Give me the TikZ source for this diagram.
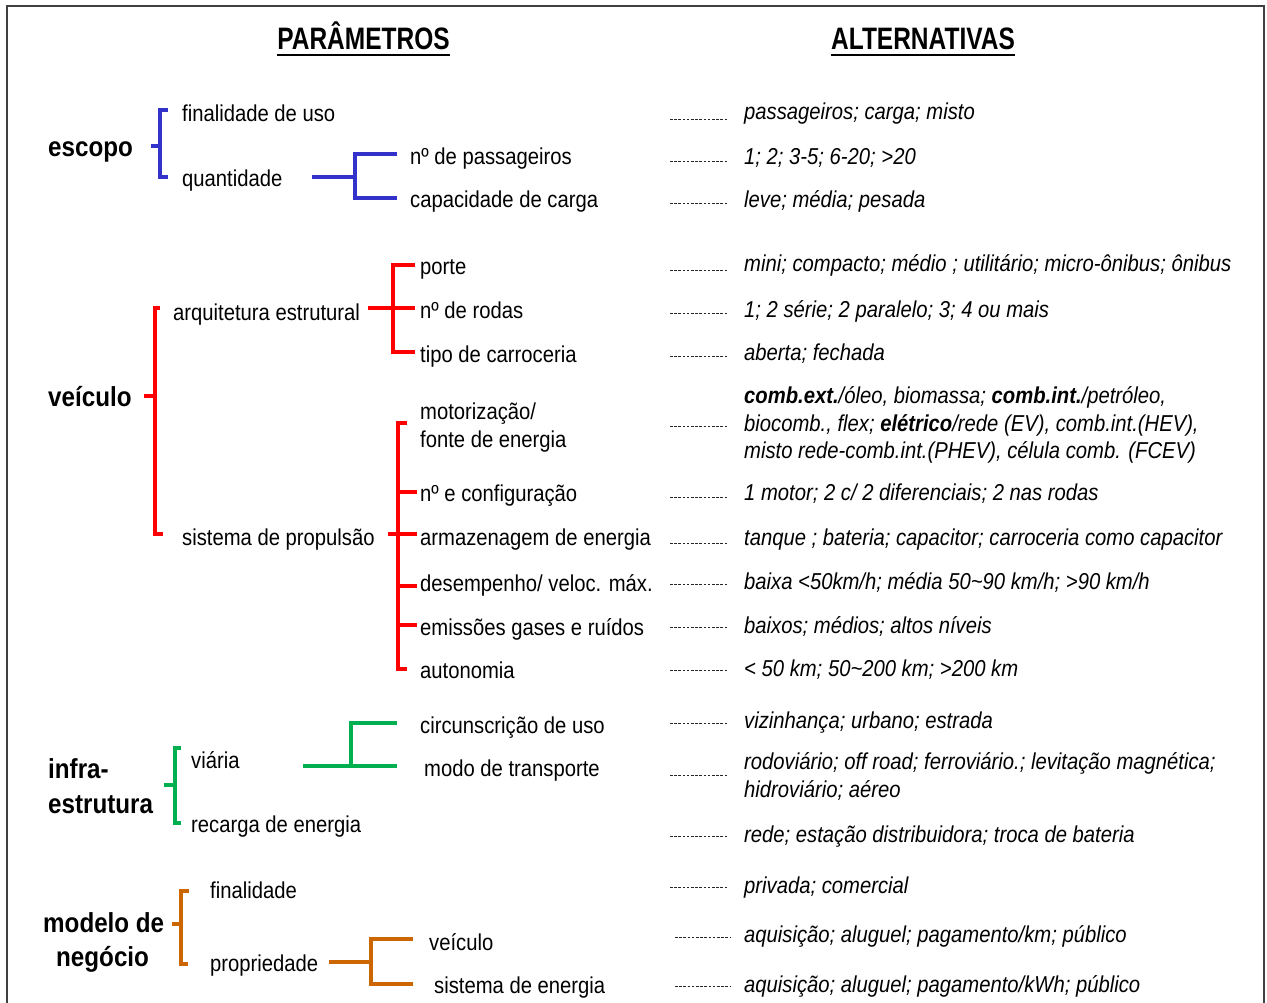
\documentclass[tikz,border=0pt]{standalone}
\usepackage{fontspec}
\setmainfont{Liberation Sans}[FakeStretch=0.88]
\newfontfamily\hdfont{Liberation Sans}[FakeStretch=0.79]
\definecolor{cblue}{RGB}{51,51,204}
\definecolor{cred}{RGB}{255,0,0}
\definecolor{cgreen}{RGB}{0,176,80}
\definecolor{corange}{RGB}{204,102,0}
\begin{document}
\begin{tikzpicture}[x=1pt,y=-1pt,
  txt/.style={anchor=base west, inner sep=0pt, font=\fontsize{23}{27}\selectfont},
  alt/.style={anchor=base west, inner sep=0pt, font=\fontsize{23}{27}\selectfont\itshape},
  lab/.style={anchor=base west, inner sep=0pt, font=\fontsize{27.5}{32}\selectfont\bfseries},
  hdr/.style={anchor=base, inner sep=0pt, font=\hdfont\fontsize{31}{36}\selectfont\bfseries},
  brk/.style={line width=4pt, line join=miter, line cap=butt},
  leader/.style={line width=0.8pt, dash pattern=on 2.6pt off 1.6pt, black!85},
  frame/.style={line width=1.6pt, black!75}
]
\useasboundingbox (0,0) rectangle (1267,1003);
% frame
\draw[frame] (7,1003) -- (7,6) -- (1264,6) -- (1264,1003);

% headers
\node[hdr] (h1) at (363.5,50) {PARÂMETROS};
\node[hdr] (h2) at (923,50) {ALTERNATIVAS};
\draw[line width=2.6pt] ([yshift=-5pt]h1.base west) -- ([yshift=-5pt]h1.base east);
\draw[line width=2.6pt] ([yshift=-5pt]h2.base west) -- ([yshift=-5pt]h2.base east);

% ---------- left column: parameters ----------
\node[lab] (esc) at (48,157) {escopo};
\node[txt] (fin) at (182,122) {finalidade de uso};
\node[txt] (qua) at (182,187) {quantidade};
\node[txt] (npas) at (410,165) {nº de passageiros};
\node[txt] (cap) at (410,208) {capacidade de carga};

\node[txt] (por) at (420,275) {porte};
\node[txt] (arq) at (173,320) {arquitetura estrutural};
\node[txt] (nro) at (420,319) {nº de rodas};
\node[txt] (tip) at (420,362) {tipo de carroceria};
\node[lab] (vei) at (48,406) {veículo};
\node[txt] (mot1) at (420,419) {motorização/};
\node[txt] (mot2) at (420,447) {fonte de energia};
\node[txt] (nce) at (420,501) {nº e configuração};
\node[txt] (sis) at (182,545) {sistema de propulsão};
\node[txt] (arm) at (420,545) {armazenagem de energia};
\node[txt] (des) at (420,591) {desempenho/ veloc. máx.};
\node[txt] (emi) at (420,635) {emissões gases e ruídos};
\node[txt] (aut) at (420,678) {autonomia};

\node[lab] (inf1) at (48,778) {infra-};
\node[lab] (inf2) at (48,813) {estrutura};
\node[txt] (via) at (191,768) {viária};
\node[txt] (rec) at (191,832) {recarga de energia};
\node[txt] (cir) at (420,733) {circunscrição de uso};
\node[txt] (mod) at (424,776) {modo de transporte};

\node[lab] (mn1) at (43,932) {modelo de};
\node[lab] (mn2) at (56,966) {negócio};
\node[txt] (fnl) at (210,898) {finalidade};
\node[txt] (pro) at (210,971) {propriedade};
\node[txt] (vc2) at (429,950) {veículo};
\node[txt] (sen) at (434,993) {sistema de energia};

% ---------- brackets ----------
% blue
\draw[brk, cblue] (168,110) -- (160,110) -- (160,177) -- (168,177);
\draw[brk, cblue] (151,146) -- (160,146);
\draw[brk, cblue] (312,177) -- (355,177);
\draw[brk, cblue] (397,154) -- (355,154) -- (355,198) -- (397,198);
% red
\draw[brk, cred] (160,308) -- (155,308) -- (155,534) -- (163,534);
\draw[brk, cred] (144,396) -- (155,396);
\draw[brk, cred] (368,308) -- (415,308);
\draw[brk, cred] (415,265) -- (393,265) -- (393,352) -- (415,352);
\draw[brk, cred] (407,423) -- (398,423) -- (398,669) -- (407,669);
\draw[brk, cred] (398,492) -- (417,492);
\draw[brk, cred] (388,534) -- (417,534);
\draw[brk, cred] (398,586) -- (417,586);
\draw[brk, cred] (398,625) -- (417,625);
% green
\draw[brk, cgreen] (181,748) -- (175,748) -- (175,823) -- (181,823);
\draw[brk, cgreen] (164,785) -- (175,785);
\draw[brk, cgreen] (303,766) -- (397,766);
\draw[brk, cgreen] (397,723) -- (351,723) -- (351,766);
% orange
\draw[brk, corange] (189,891) -- (181,891) -- (181,964) -- (188,964);
\draw[brk, corange] (172,924) -- (181,924);
\draw[brk, corange] (329,962) -- (371,962);
\draw[brk, corange] (413,939) -- (371,939) -- (371,984) -- (413,984);

% ---------- right column: alternatives ----------
\node[alt] (a1) at (744,120) {passageiros; carga; misto};
\node[alt] (a2) at (744,165) {1; 2; 3-5; 6-20; >20};
\node[alt] (a3) at (744,208) {leve; média; pesada};
\node[alt] (a4) at (744,272) {mini; compacto; médio ; utilitário; micro-ônibus; ônibus};
\node[alt] (a5) at (744,317) {1; 2 série; 2 paralelo; 3; 4 ou mais};
\node[alt] (a6) at (744,360) {aberta; fechada};
\node[alt] (a7a) at (744,403) {\textbf{comb.ext.}/óleo, biomassa; \textbf{comb.int.}/petróleo,};
\node[alt] (a7b) at (744,431) {biocomb., flex; \textbf{elétrico}/rede (EV), comb.int.(HEV),};
\node[alt] (a7c) at (744,458) {misto rede-comb.int.(PHEV), célula comb. (FCEV)};
\node[alt] (a8) at (744,500) {1 motor; 2 c/ 2 diferenciais; 2 nas rodas};
\node[alt] (a9) at (744,545) {tanque ; bateria; capacitor; carroceria como capacitor};
\node[alt] (a10) at (744,589) {baixa <50km/h; média 50\textasciitilde 90 km/h; >90 km/h};
\node[alt] (a11) at (744,633) {baixos; médios; altos níveis};
\node[alt] (a12) at (744,676) {< 50 km; 50\textasciitilde 200 km; >200 km};
\node[alt] (a13) at (744,728) {vizinhança; urbano; estrada};
\node[alt] (a14a) at (744,769) {rodoviário; off road; ferroviário.; levitação magnética;};
\node[alt] (a14b) at (744,797) {hidroviário; aéreo};
\node[alt] (a15) at (744,842) {rede; estação distribuidora; troca de bateria};
\node[alt] (a16) at (744,893) {privada; comercial};
\node[alt] (a17) at (744,942) {aquisição; aluguel; pagamento/km; público};
\node[alt] (a18) at (744,992) {aquisição; aluguel; pagamento/kWh; público};

% ---------- dotted leaders ----------
\foreach \yy in {119,161,203,270,313,356,426,497,543,584,627,670,723,775,836,887}
  \draw[leader] (670,\yy) -- (727,\yy);
\foreach \yy in {937,986}
  \draw[leader] (675,\yy) -- (731,\yy);
\end{tikzpicture}
\end{document}
